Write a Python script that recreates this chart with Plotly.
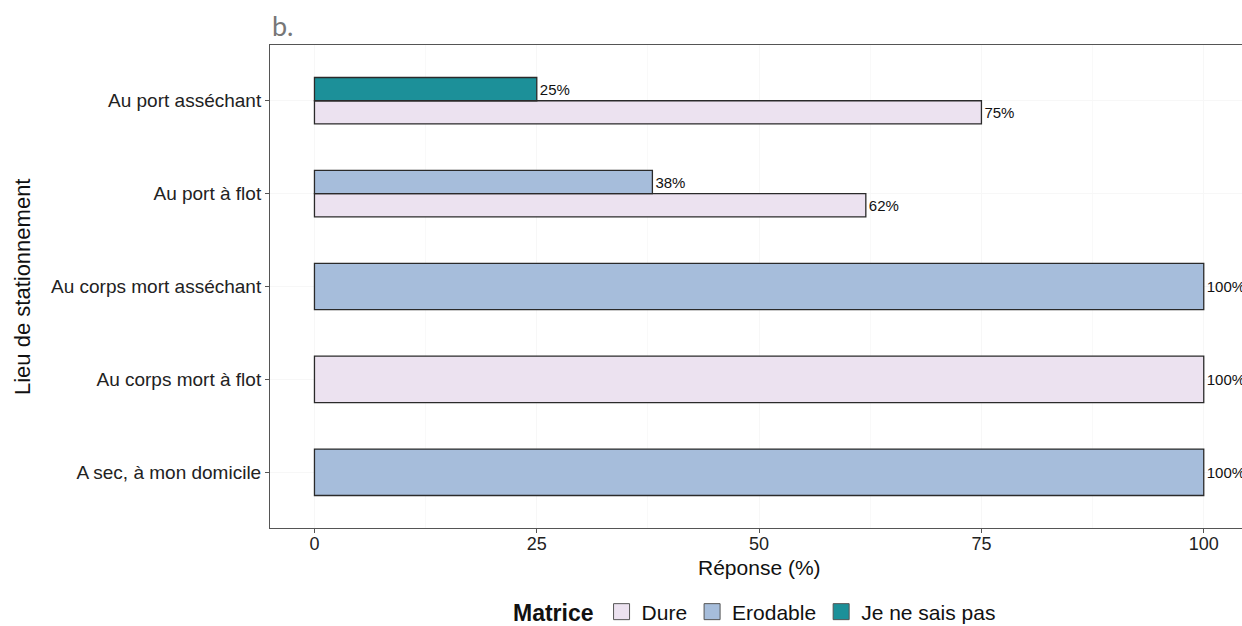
import plotly.graph_objects as go

# ---- data ----
categories = ["A sec, à mon domicile", "Au corps mort à flot", "Au corps mort asséchant",
              "Au port à flot", "Au port asséchant"]
series_names = ["Dure", "Erodable", "Je ne sais pas"]
dure = [None, 100, None, 62, 75]
erodable = [100, None, 100, 38, None]
je_ne_sais_pas = [None, None, None, None, 25]
x_ticks = [0, 25, 50, 75, 100]

colors = ["#ECE2F0", "#A6BDDB", "#1C9099"]
FONT = "Liberation Sans, Arial, sans-serif"

series = [dure, erodable, je_ne_sais_pas]
ypos = list(range(1, len(categories) + 1))
dodge_total = 0.5

# number of groups present per category -> dodge layout
present = [[s[i] is not None for s in series] for i in range(len(categories))]

fig = go.Figure()
for k, (name, vals, col) in enumerate(zip(series_names, series, colors)):
    widths, offsets = [], []
    for i in range(len(categories)):
        n = sum(present[i])
        idx = sum(present[i][:k])
        w = dodge_total / max(n, 1)
        widths.append(w)
        offsets.append(-dodge_total / 2 + idx * w)
    fig.add_trace(go.Bar(
        x=vals, y=ypos, orientation="h", name=name,
        width=widths, offset=offsets,
        marker=dict(color=col, line=dict(color="#2a2a2a", width=1.3)),
        texttemplate="%{x}%", textposition="outside",
        textfont=dict(family=FONT, size=15, color="#111"),
        constraintext="none", cliponaxis=False, showlegend=False,
    ))
    # legend entry with larger square swatch
    fig.add_trace(go.Scatter(
        x=[None], y=[None], mode="markers", name=name,
        marker=dict(symbol="square", size=16, color=col, line=dict(color="#555", width=1)),
    ))

fig.update_layout(
    width=1242, height=626,
    margin=dict(l=270, r=0, t=45, b=98, autoexpand=False),
    paper_bgcolor="white", plot_bgcolor="white",
    barmode="overlay",
    font=dict(family=FONT, color="#222"),
    legend=dict(
        orientation="h", x=0.5, xanchor="center",
        yref="container", y=(626 - 612) / 626, yanchor="middle",
        title=dict(text="<b>Matrice</b>", font=dict(size=23, color="#111"), side="left"),
        font=dict(size=21, color="#111"),
        itemsizing="trace",
    ),
    showlegend=True,
)

fig.update_xaxes(
    range=[-5, 104.3], tickvals=x_ticks, ticktext=[str(v) for v in x_ticks],
    showgrid=True, gridcolor="#F7F7F7", gridwidth=1,
    minor=dict(showgrid=True, gridcolor="#F9F9F9", dtick=12.5, tick0=0),
    zeroline=False, showline=True, linecolor="#555", linewidth=1, mirror=True,
    ticks="outside", ticklen=4, tickcolor="#555",
    tickfont=dict(size=18, color="#222"), ticklabelstandoff=-5,
)
fig.update_yaxes(
    range=[0.4, 5.6], tickvals=ypos, ticktext=categories,
    showgrid=True, gridcolor="#F7F7F7", gridwidth=1,
    zeroline=False, showline=True, linecolor="#555", linewidth=1, mirror=False,
    ticks="outside", ticklen=4, tickcolor="#555",
    tickfont=dict(size=19, color="#222"),
)

# axis titles and panel tag
fig.add_annotation(text="Réponse (%)", xref="paper", yref="paper",
                   x=(759 - 270) / 972, y=-(567 - 528) / 483, xanchor="center", yanchor="middle",
                   showarrow=False, font=dict(size=21, color="#111", family=FONT))
fig.add_annotation(text="Lieu de stationnement", xref="paper", yref="paper",
                   x=(22 - 270) / 972, y=(528 - 287) / 483, xanchor="center", yanchor="middle",
                   textangle=-90, showarrow=False, font=dict(size=22, color="#111", family=FONT))
fig.add_annotation(text="b.", xref="paper", yref="paper",
                   x=0, y=1 + (45 - 25) / 483, xanchor="left", yanchor="middle",
                   showarrow=False, font=dict(size=27, color="#777", family="Lato, sans-serif"))

fig.write_html("out.html")
